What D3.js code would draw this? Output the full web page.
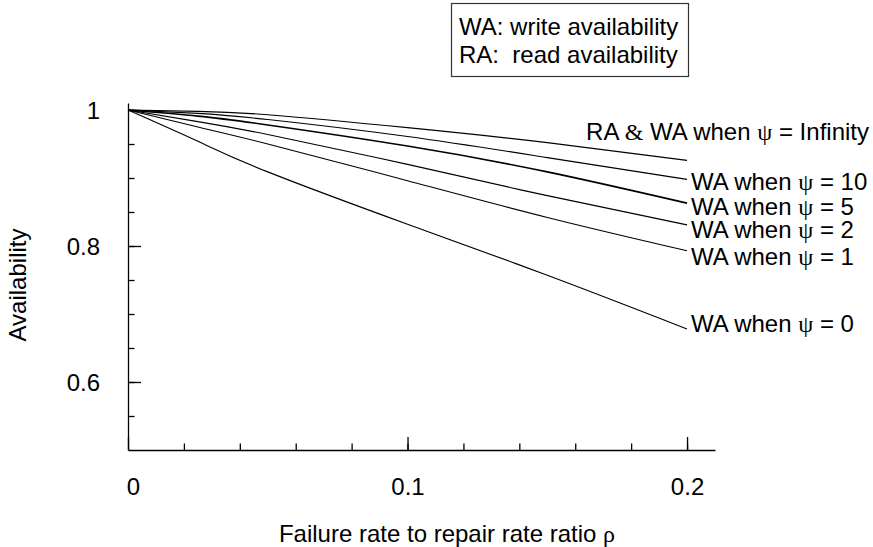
<!DOCTYPE html>
<html lang="en">
<head>
    <title>Availability vs failure/repair ratio</title>
    <meta charset="UTF-8">
    <script src="https://cdn.jsdelivr.net/npm/d3@7"></script>
    <style>
        body { margin: 0; background: #fff; }
        svg text { font-family: "Liberation Sans", Arial, sans-serif; font-size: 24px; fill: #000; }
        .sym { font-family: "Liberation Serif", "Times New Roman", serif; }
    </style>
</head>
<body>
<svg id="chart" width="873" height="547"></svg>
<script type="text/javascript">

  // ratio rho on the x axis
  const rho = [0, 0.025, 0.05, 0.1, 0.15, 0.2];

  // availability
  const raInf = [1, 0.998, 0.993, 0.974, 0.952, 0.926];
  const wa10  = [1, 0.995, 0.986, 0.961, 0.930, 0.898];
  const wa5   = [1, 0.991, 0.978, 0.947, 0.909, 0.863];
  const wa2   = [1, 0.983, 0.964, 0.920, 0.874, 0.831];
  const wa1   = [1, 0.975, 0.950, 0.896, 0.842, 0.793];
  const wa0   = [1, 0.954, 0.909, 0.832, 0.757, 0.678];

  const seriesNames = ["Infinity", "10", "5", "2", "1", "0"];
  const seriesValues = [raInf, wa10, wa5, wa2, wa1, wa0];

  const xMajor = [0, 0.1, 0.2];
  const yMajor = [0.6, 0.8, 1];

  const svg = d3.select("#chart");

  const x = d3.scaleLinear().domain([0, 0.21]).range([128, 715]);
  const y = d3.scaleLinear().domain([0.5, 1.0103]).range([450, 103]);

  // minor ticks first, then the main axes on top
  svg.append("g")
      .attr("transform", "translate(0,450)")
      .call(d3.axisBottom(x).tickValues(d3.range(1, 11).map(i => i * 0.02)).tickSize(-6.5).tickFormat(""))
      .call(g => g.select(".domain").remove());
  svg.append("g")
      .attr("transform", "translate(128,0)")
      .call(d3.axisLeft(y).tickValues(d3.range(1, 10).map(i => 0.5 + i * 0.05)).tickSize(-6.5).tickFormat(""))
      .call(g => g.select(".domain").remove());

  const xAxis = svg.append("g")
      .attr("transform", "translate(0,450)")
      .call(d3.axisBottom(x).tickValues(xMajor).tickSize(-13).tickSizeOuter(0)
          .tickPadding(28).tickFormat(d => d === 0 ? "0" : d3.format(".1f")(d)));
  const yAxis = svg.append("g")
      .attr("transform", "translate(128,0)")
      .call(d3.axisLeft(y).tickValues(yMajor).tickSize(-13).tickSizeOuter(0)
          .tickPadding(28).tickFormat(d => d === 1 ? "1" : d3.format(".1f")(d)));

  svg.selectAll(".tick line, .domain").attr("stroke", "#000").attr("stroke-width", 1.3);
  xAxis.selectAll("text").attr("dx", d => d === 0 ? 5 : 0);
  yAxis.selectAll("text").attr("dy", "0.36em");
  svg.selectAll("g").attr("font-size", null).attr("font-family", null);

  const line = d3.line()
      .x((d, i) => x(rho[i]))
      .y(d => y(d))
      .curve(d3.curveNatural);

  svg.append("g").selectAll("path")
      .data(seriesValues)
      .join("path")
      .attr("d", line)
      .attr("fill", "none")
      .attr("stroke", "#000")
      .attr("stroke-width", (d, i) => i === 2 ? 1.6 : 1.15);

  // labels next to the line ends
  const labelDx = [-101, 4, 4, 4, 4, 4];
  const labelDy = [-20, 10.9, 12.1, 12.7, 14.5, 2.9];
  const labels = svg.append("g");
  seriesValues.forEach((vals, i) => {
      const t = labels.append("text")
          .attr("x", x(0.2) + labelDx[i])
          .attr("y", y(vals[vals.length - 1]) + labelDy[i])
          .style("white-space", "pre");
      if (i === 0) {
          t.append("tspan").text("RA ");
          t.append("tspan").attr("class", "sym").text("&");
          t.append("tspan").text(" WA when ");
      } else {
          t.append("tspan").text("WA when ");
      }
      t.append("tspan").attr("class", "sym").text("ψ");
      t.append("tspan").text(" = " + seriesNames[i]);
  });

  // legend box
  svg.append("rect")
      .attr("x", 451.5).attr("y", 3.5).attr("width", 237).attr("height", 73)
      .attr("fill", "none").attr("stroke", "#333").attr("stroke-width", 1.2);
  svg.append("text").attr("x", 459).attr("y", 35).style("white-space", "pre").text("WA: write availability");
  svg.append("text").attr("x", 459).attr("y", 63).style("white-space", "pre").text("RA:  read availability");

  // axis titles
  const xt = svg.append("text").attr("x", 447).attr("y", 542).attr("text-anchor", "middle");
  xt.append("tspan").text("Failure rate to repair rate ratio ");
  xt.append("tspan").attr("class", "sym").text("ρ");
  svg.append("text")
      .attr("transform", "translate(26,285) rotate(-90)")
      .attr("text-anchor", "middle")
      .text("Availability");

</script>
</body>
</html>
